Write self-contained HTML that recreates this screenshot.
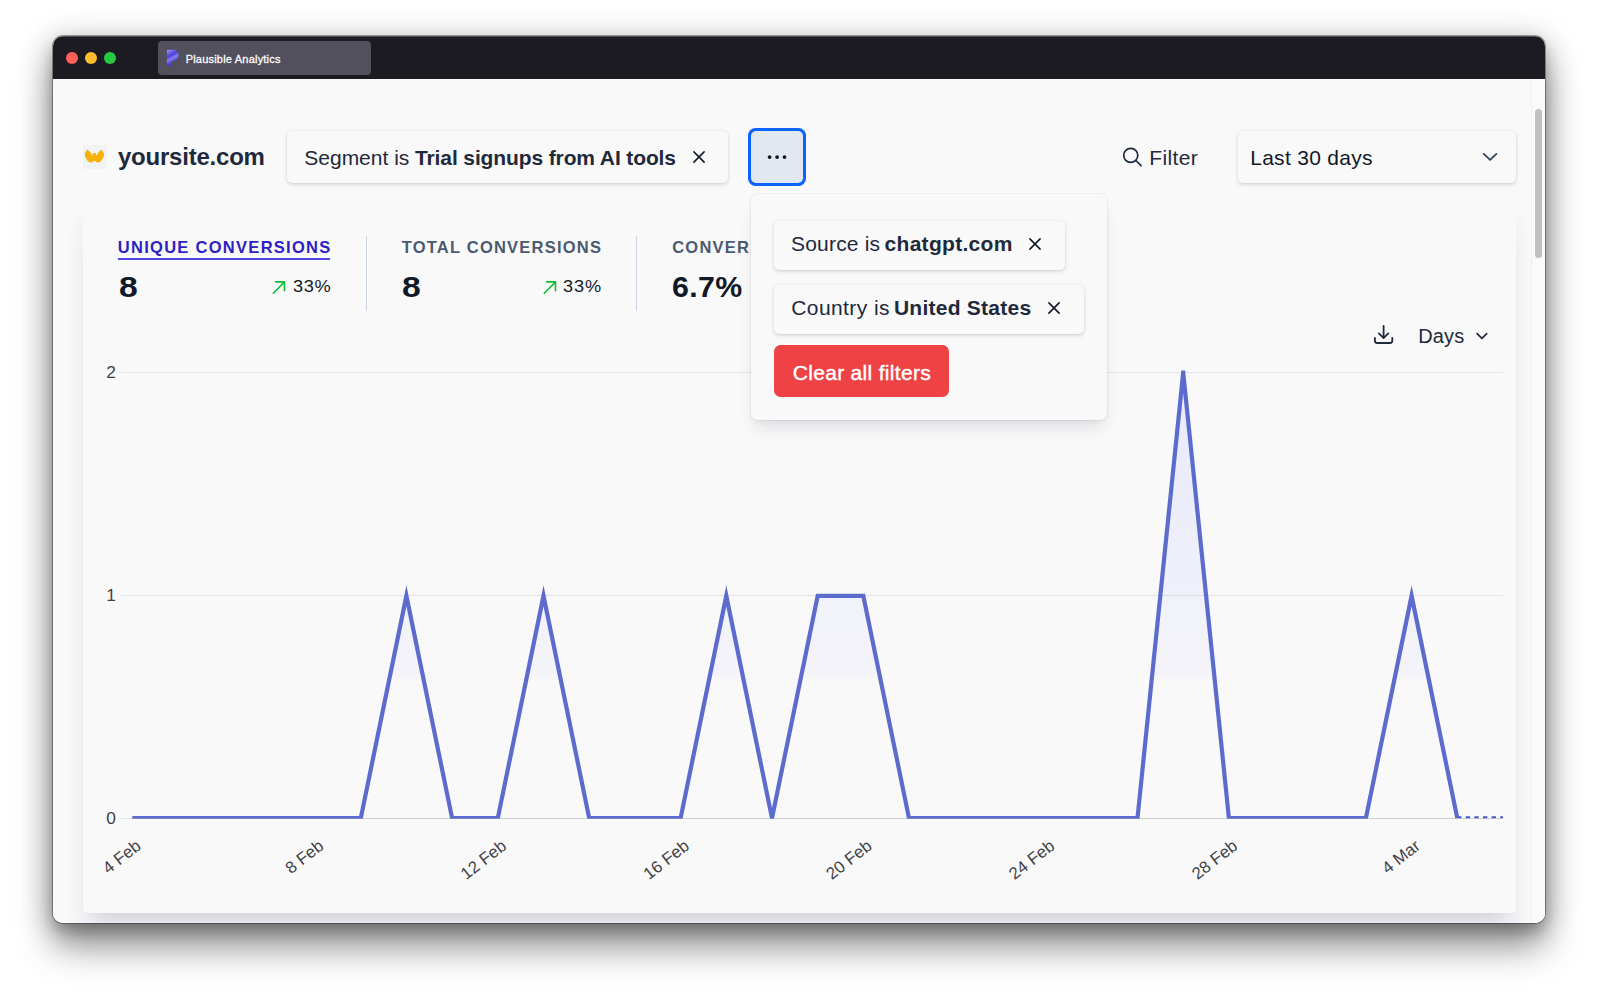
<!DOCTYPE html>
<html lang="en">
<head>
<meta charset="utf-8">
<title>Plausible Analytics</title>
<style>
*{box-sizing:border-box;margin:0;padding:0}
html,body{width:1600px;height:995px;overflow:hidden;background:#fff}
body{position:relative;font-family:"Liberation Sans",sans-serif;color:#111827}
.abs{position:absolute}
#win{position:absolute;left:53px;top:36px;width:1492px;height:887px;border-radius:10px;background:#f9f9f9;overflow:hidden;box-shadow:inset 0 -1px 0 rgba(255,255,255,.9)}
#shadow{position:absolute;left:53px;top:36px;width:1492px;height:887px;border-radius:10px;
 box-shadow:0 0 0 1px rgba(0,0,0,.33),0 24px 36px 0 rgba(0,0,0,.42),0 8px 14px 0 rgba(0,0,0,.2),0 2px 30px 3px rgba(0,0,0,.17);}
#titlebar{position:absolute;left:0;top:0;width:100%;height:42.5px;background:#1c1b22;box-shadow:inset 0 1px 0 rgba(255,255,255,.22)}
.tl{position:absolute;top:16px;width:12px;height:12px;border-radius:50%}
#tab{position:absolute;left:104.5px;top:5px;width:213px;height:34px;border-radius:4px;background:#52505c}
#sbtrack{position:absolute;left:1478px;top:42.5px;width:14px;height:845px;background:#fafafa;border-left:1px solid #f0f0f1}
#sbthumb{position:absolute;left:1481.5px;top:73px;width:7px;height:149.3px;border-radius:4px;background:#c1c1c1}
.t{position:absolute;white-space:nowrap;line-height:1}
.pill{position:absolute;background:#f9f9f9;border-radius:5px;box-shadow:0 1.5px 4px rgba(30,40,90,.12),0 1px 2.4px rgba(30,40,90,.07),0 0 0 .5px rgba(30,40,90,.02)}
b{font-weight:700}
</style>
</head>
<body>
<div id="shadow"></div>
<div id="win">
  <div id="titlebar">
    <div class="tl" style="left:13px;background:#fe5f57"></div>
    <div class="tl" style="left:32px;background:#febc2e"></div>
    <div class="tl" style="left:51px;background:#28c840"></div>
    <div id="tab">
      <svg class="abs" style="left:8.3px;top:8.1px" width="14" height="18" viewBox="0 0 14 18"><defs><linearGradient id="pg" x1="0" y1="0" x2=".4" y2="1"><stop offset=".08" stop-color="#8f89f1"/><stop offset=".42" stop-color="#4a40d9"/><stop offset=".6" stop-color="#857dee"/><stop offset=".9" stop-color="#3d32d8"/></linearGradient></defs><path d="M.9 1.2 C.9 .9 1.1 .7 1.4 .7 L7 .7 C10.3 .7 12.6 3.1 12.6 6.2 C12.6 9.4 10.2 11.8 7 11.8 L5.8 11.8 L5.8 14.5 C5.8 16 4.7 17 3.3 17 C1.9 17 .9 16 .9 14.6 Z" fill="url(#pg)"/></svg>
    </div>
  </div>
  <div id="sbtrack"></div>
  <div id="sbthumb"></div>
</div>

<!-- page content positioned in page coordinates -->
<div id="content" class="abs" style="left:0;top:0;width:1600px;height:995px;clip-path:inset(36px 55px 72px 53px round 10px)">

  <!-- card -->
  <div class="abs" id="card" style="left:82.5px;top:211px;width:1433.5px;height:702px;border-radius:5px;background:#f9f9f9;box-shadow:0 20px 20px -10px rgba(10,12,20,.13),0 13px 9px 9px rgba(110,115,255,.045)"></div>

  <!-- site -->
  <div class="abs" style="left:83px;top:145px;width:23px;height:24px;background:#f1f2f4"></div>
  <svg class="abs" style="left:84px;top:149px" width="21" height="15" viewBox="84 149 21 15">
    <defs><path id="hand" d="M87 149.9 C87.6 149.7 88 150.3 88.3 150.7 C88.9 150.6 89.5 151 89.8 151.6 C90.5 152.2 91.1 153.3 91.5 154.5 C91.9 155.1 92.4 155.5 92.7 155.6 L92.8 153.6 C92.8 153.1 93.1 152.9 93.6 152.9 L94.45 152.9 L94.45 160.3 C94.1 161.3 93 162.2 91.6 162.5 C90.4 162.8 89.2 162.4 88.3 161.6 C87.3 160.7 86.5 159.4 86 158 C85.4 157.2 84.9 155.8 84.9 154.4 C84.8 153.6 85 153 85.3 152.7 C85.4 152 85.8 151.6 86.3 151.4 C86.3 150.7 86.5 150.1 87 149.9 Z"/></defs>
    <use href="#hand" fill="#f7b004"/><rect x="94" y="152.9" width=".9" height="7.4" fill="#f7b004"/>
    <use href="#hand" fill="#f7b004" transform="translate(188.9 0) scale(-1 1)"/>
  </svg>
  <!-- filter pill 1 -->
  <div class="pill" style="left:287px;top:130.5px;width:441px;height:52.5px"></div>
  <svg class="abs" style="left:692px;top:150px" width="14" height="14" viewBox="0 0 14 14"><path d="M1.9 1.9 L12.1 12.1 M12.1 1.9 L1.9 12.1" stroke="#111827" stroke-width="1.6" fill="none" stroke-linecap="round"/></svg>

  <!-- more button -->
  <div class="abs" style="left:748.4px;top:128.1px;width:57.2px;height:57.5px;border-radius:7.5px;background:#0b64fe"></div>
  <div class="abs" style="left:751px;top:130.7px;width:52px;height:52.3px;border-radius:5px;background:#e2e8f0"></div>
  <svg class="abs" style="left:765px;top:153px" width="24" height="8" viewBox="0 0 24 8"><circle cx="4.6" cy="4.1" r="1.9" fill="#111827"/><circle cx="12.1" cy="4.1" r="1.9" fill="#111827"/><circle cx="19.5" cy="4.1" r="1.9" fill="#111827"/></svg>

  <!-- Filter -->
  <svg class="abs" style="left:1120px;top:146px" width="24" height="24" viewBox="0 0 24 24"><circle cx="10.75" cy="9.35" r="7.05" stroke="#1e293b" stroke-width="1.7" fill="none"/><path d="M15.9 14.5 L21 19.7" stroke="#1e293b" stroke-width="1.7" stroke-linecap="round"/></svg>

  <!-- date -->
  <div class="pill" style="left:1238px;top:130.5px;width:278px;height:52.5px"></div>
  <svg class="abs" style="left:1481px;top:150px" width="18" height="12" viewBox="0 0 18 12"><path d="M2.8 3.9 L9.1 9.9 L15.4 3.9" stroke="#334155" stroke-width="1.8" fill="none" stroke-linecap="round" stroke-linejoin="round"/></svg>

  <!-- metrics -->
  <div class="abs" style="left:118px;top:257.5px;width:212px;height:2.2px;background:#4f46e5"></div>
  <svg class="abs" style="left:272px;top:280px" width="15" height="15" viewBox="0 0 15 15"><path d="M1.3 13.3 L12.4 2.1 M3.6 1.9 H12.5 V10.8" stroke="#16b937" stroke-width="1.6" fill="none" stroke-linecap="round" stroke-linejoin="round"/></svg>
  <div class="abs" style="left:365.5px;top:235.5px;width:1.2px;height:75.5px;background:#cbd5e1"></div>

  <svg class="abs" style="left:542.6px;top:280px" width="15" height="15" viewBox="0 0 15 15"><path d="M1.3 13.3 L12.4 2.1 M3.6 1.9 H12.5 V10.8" stroke="#16b937" stroke-width="1.6" fill="none" stroke-linecap="round" stroke-linejoin="round"/></svg>
  <div class="abs" style="left:636px;top:235.5px;width:1.2px;height:75.5px;background:#cbd5e1"></div>

  <div class="t" id="m3" style="left:672.2px;top:239.43px;font-size:16.5px;font-weight:700;color:#4b5a70;letter-spacing:1.25px">CONVERSION RATE</div>

  <!-- chart tools -->
  <svg class="abs" style="left:1372px;top:323px" width="24" height="24" viewBox="0 0 24 24"><path d="M11.6 3 L11.6 15 M6.9 10.4 L11.6 15.1 L16.3 10.4 M2.9 15 L2.9 17.8 A2.2 2.2 0 0 0 5.1 20 L18.1 20 A2.2 2.2 0 0 0 20.3 17.8 L20.3 15" stroke="#1e293b" stroke-width="1.8" fill="none" stroke-linecap="round" stroke-linejoin="round"/></svg>
  <svg class="abs" style="left:1473.6px;top:329.5px" width="16" height="12" viewBox="0 0 16 12"><path d="M3.1 3.6 L7.9 8.3 L12.7 3.6" stroke="#1e293b" stroke-width="1.7" fill="none" stroke-linecap="round" stroke-linejoin="round"/></svg>

  <!-- chart -->
  <svg class="abs" style="left:0;top:0" width="1600" height="995" viewBox="0 0 1600 995" font-family="Liberation Sans, sans-serif">
    <defs><clipPath id="cp"><rect x="100" y="370.5" width="1420" height="448.3"/></clipPath><linearGradient id="g" x1="0" y1="371" x2="0" y2="681" gradientUnits="userSpaceOnUse"><stop offset="0" stop-color="#8088ff" stop-opacity=".125"/><stop offset=".48" stop-color="#8088ff" stop-opacity=".1"/><stop offset=".72" stop-color="#8088ff" stop-opacity=".08"/><stop offset=".75" stop-color="#8088ff" stop-opacity=".06"/><stop offset=".975" stop-color="#8088ff" stop-opacity=".05"/><stop offset="1" stop-color="#8088ff" stop-opacity="0"/></linearGradient></defs>
    <g stroke="#e2e3e6" stroke-width="1.2"><path d="M121 372.5 H1503 M121 595.5 H1503"/><path d="M121 818.5 H131" /><path d="M131 818.5 H1503" stroke="#d0d0d3"/></g>
    <g font-size="17.3" fill="#3f3f46" text-anchor="end"><text x="115.8" y="378">2</text><text x="115.8" y="601">1</text><text x="115.8" y="823.8">0</text></g>
    <path d="M132.3 818.1 L178.0 818.1 L223.7 818.1 L269.4 818.1 L315.1 818.1 L360.8 818.1 L406.4 595.8 L452.1 818.1 L497.8 818.1 L543.5 595.8 L589.2 818.1 L634.9 818.1 L680.6 818.1 L726.3 595.8 L772.0 818.1 L817.7 595.8 L863.3 595.8 L909.0 818.1 L954.7 818.1 L1000.4 818.1 L1046.1 818.1 L1091.8 818.1 L1137.5 818.1 L1183.2 372.5 L1228.9 818.1 L1274.6 818.1 L1320.2 818.1 L1365.9 818.1 L1411.6 595.8 L1457.3 818.1 L1457.3 818.1 L132.3 818.1 Z" fill="url(#g)"/>
    <path clip-path="url(#cp)" d="M132.3 818.1 L178.0 818.1 L223.7 818.1 L269.4 818.1 L315.1 818.1 L360.8 818.1 L406.4 595.8 L452.1 818.1 L497.8 818.1 L543.5 595.8 L589.2 818.1 L634.9 818.1 L680.6 818.1 L726.3 595.8 L772.0 818.1 L817.7 595.8 L863.3 595.8 L909.0 818.1 L954.7 818.1 L1000.4 818.1 L1046.1 818.1 L1091.8 818.1 L1137.5 818.1 L1183.2 372.5 L1228.9 818.1 L1274.6 818.1 L1320.2 818.1 L1365.9 818.1 L1411.6 595.8 L1457.3 818.1" fill="none" stroke="#5c6cce" stroke-width="4.2" stroke-linejoin="miter" stroke-miterlimit="10"/>
    <path d="M1457 817.3 H1503" fill="none" stroke="#4a5acb" stroke-width="2" stroke-dasharray="4.4 4.25"/>
    <g font-size="16.8" fill="#3f3f46">
      <text x="142.0" y="848" text-anchor="end" transform="rotate(-38 142.0 848)">4 Feb</text>
      <text x="324.8" y="848" text-anchor="end" transform="rotate(-38 324.8 848)">8 Feb</text>
      <text x="507.5" y="848" text-anchor="end" transform="rotate(-38 507.5 848)">12 Feb</text>
      <text x="690.3" y="848" text-anchor="end" transform="rotate(-38 690.3 848)">16 Feb</text>
      <text x="873.0" y="848" text-anchor="end" transform="rotate(-38 873.0 848)">20 Feb</text>
      <text x="1055.8" y="848" text-anchor="end" transform="rotate(-38 1055.8 848)">24 Feb</text>
      <text x="1238.6" y="848" text-anchor="end" transform="rotate(-38 1238.6 848)">28 Feb</text>
      <text x="1421.3" y="848" text-anchor="end" transform="rotate(-38 1421.3 848)">4 Mar</text>

    </g>
  </svg>

  <div class="t" id="tabtxt" style="left:185.69px;top:53.69px;font-size:11px;font-weight:400;color:#fbfbfe;letter-spacing:0.203px;-webkit-text-stroke:.3px #fbfbfe;">Plausible Analytics</div>
  <div class="t" id="site" style="left:118.01px;top:144.88px;font-size:24px;font-weight:700;color:#1e293b;letter-spacing:-0.224px;">yoursite.com</div>
  <div class="t" id="seg" style="left:304.28px;top:147.22px;font-size:21px;font-weight:400;color:#1e293b;letter-spacing:-0.001px;">Segment is</div>
  <div class="t" id="segb" style="left:415.00px;top:147.22px;font-size:21px;font-weight:700;color:#1e293b;letter-spacing:-0.118px;">Trial signups from AI tools</div>
  <div class="t" id="filt" style="left:1149.24px;top:147.22px;font-size:21px;font-weight:400;color:#1e293b;letter-spacing:0.384px;">Filter</div>
  <div class="t" id="date" style="left:1250.18px;top:147.22px;font-size:21px;font-weight:400;color:#111827;letter-spacing:0.297px;">Last 30 days</div>
  <div class="t" id="m1" style="left:117.79px;top:239.43px;font-size:16.5px;font-weight:700;color:#2e1fc4;letter-spacing:1.285px;">UNIQUE CONVERSIONS</div>
  <div class="t" id="v1" style="left:118.53px;top:272.59px;font-size:28.6px;font-weight:700;color:#111827;letter-spacing:0.000px;transform-origin:0 0;transform:scaleX(1.18);">8</div>
  <div class="t" id="p1" style="left:292.50px;top:278.01px;font-size:17px;font-weight:400;color:#111827;letter-spacing:0.567px;transform-origin:0 0;transform:scaleX(1.07);">33%</div>
  <div class="t" id="m2" style="left:401.69px;top:239.43px;font-size:16.5px;font-weight:700;color:#4b5a70;letter-spacing:1.224px;">TOTAL CONVERSIONS</div>
  <div class="t" id="v2" style="left:401.93px;top:272.59px;font-size:28.6px;font-weight:700;color:#111827;letter-spacing:0.000px;transform-origin:0 0;transform:scaleX(1.18);">8</div>
  <div class="t" id="p2" style="left:563.00px;top:278.01px;font-size:17px;font-weight:400;color:#111827;letter-spacing:0.791px;transform-origin:0 0;transform:scaleX(1.07);">33%</div>
  <div class="t" id="v3" style="left:672.05px;top:272.59px;font-size:28.6px;font-weight:700;color:#111827;letter-spacing:0.388px;transform-origin:0 0;transform:scaleX(1.06);">6.7%</div>
  <div class="t" id="days" style="left:1418.28px;top:325.87px;font-size:20px;font-weight:400;color:#1e293b;letter-spacing:0.127px;">Days</div>

  <!-- dropdown panel -->
  <div class="abs" id="panel" style="left:750.5px;top:194px;width:356px;height:226px;border-radius:7px;background:#f9f9f9;box-shadow:0 12px 18px -4px rgba(20,30,60,.10),0 4px 7px -2px rgba(20,30,60,.06),0 0 0 1px rgba(20,30,60,.045)"></div>
  <div class="pill" style="left:773.5px;top:221px;width:291px;height:49px"></div>
  <svg class="abs" style="left:1028px;top:237px" width="14" height="14" viewBox="0 0 14 14"><path d="M1.9 1.9 L12.1 12.1 M12.1 1.9 L1.9 12.1" stroke="#111827" stroke-width="1.6" fill="none" stroke-linecap="round"/></svg>
  <div class="pill" style="left:773.5px;top:285px;width:310px;height:48.5px"></div>
  <svg class="abs" style="left:1047px;top:300.5px" width="14" height="14" viewBox="0 0 14 14"><path d="M1.9 1.9 L12.1 12.1 M12.1 1.9 L1.9 12.1" stroke="#111827" stroke-width="1.6" fill="none" stroke-linecap="round"/></svg>
  <div class="abs" style="left:774px;top:345px;width:175px;height:51.7px;border-radius:6.5px;background:#ee4245"></div>
  <div class="t" id="f1" style="left:790.96px;top:233.22px;font-size:21px;font-weight:400;color:#1e293b;letter-spacing:0.204px;">Source is</div>
  <div class="t" id="f1b" style="left:884.55px;top:233.22px;font-size:21px;font-weight:700;color:#1e293b;letter-spacing:0.295px;">chatgpt.com</div>
  <div class="t" id="f2" style="left:791.24px;top:296.62px;font-size:21px;font-weight:400;color:#1e293b;letter-spacing:0.419px;">Country is</div>
  <div class="t" id="f2b" style="left:893.88px;top:296.62px;font-size:21px;font-weight:700;color:#1e293b;letter-spacing:0.257px;">United States</div>
  <div class="t" id="clr" style="left:792.72px;top:361.62px;font-size:21px;font-weight:400;color:#ffffff;letter-spacing:0.309px;-webkit-text-stroke:.4px #fff;">Clear all filters</div>

</div>
</body>
</html>
